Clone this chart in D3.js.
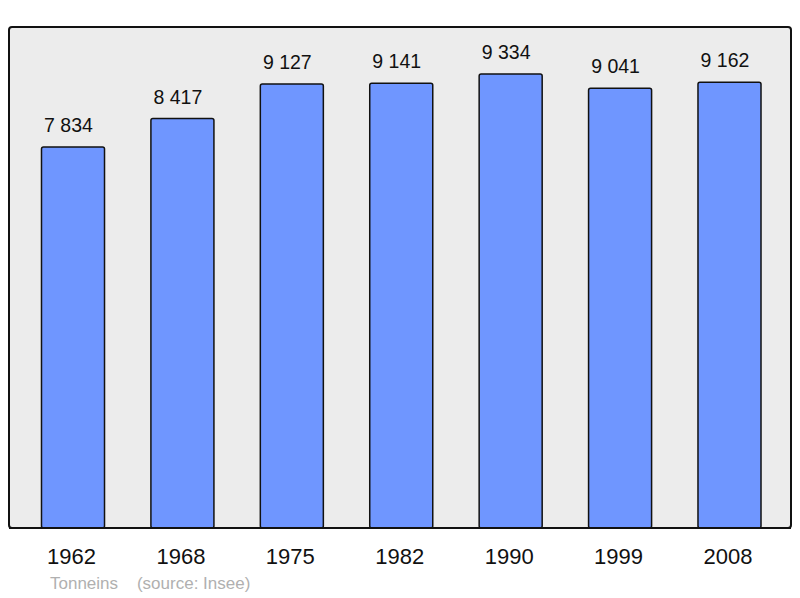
<!DOCTYPE html>
<html>
<head>
<meta charset="utf-8">
<script src="https://cdn.jsdelivr.net/npm/d3@7"></script>
<style>
  body { margin: 0; background: #fff; }
  svg { display: block; font-family: "Liberation Sans", Arial, sans-serif; }
</style>
</head>
<body>
<div id="chart"></div>
<script>
var years = ["1962", "1968", "1975", "1982", "1990", "1999", "2008"];
var population = [7834, 8417, 9127, 9141, 9334, 9041, 9162];
var labels = ["7 834", "8 417", "9 127", "9 141", "9 334", "9 041", "9 162"];
var sourceText = "Tonneins    (source: Insee)";

var width = 800, height = 598;
var panel = {left: 9, top: 27, right: 791, bottom: 528};

var svg = d3.select("#chart").append("svg")
    .attr("width", width)
    .attr("height", height);

svg.append("rect")
    .attr("x", panel.left)
    .attr("y", panel.top)
    .attr("width", panel.right - panel.left)
    .attr("height", panel.bottom - panel.top)
    .attr("rx", 3)
    .attr("fill", "#ececec")
    .attr("stroke", "#111")
    .attr("stroke-width", 2);

var x = d3.scaleBand()
    .domain(years)
    .range([18.3, 784.2])
    .paddingInner(0.424)
    .paddingOuter(0.212);

var y = d3.scaleLinear()
    .domain([0, 10300])
    .range([panel.bottom, panel.top]);

var data = years.map(function(d, i) { return {year: d, value: population[i], label: labels[i]}; });

svg.selectAll(".bar")
    .data(data)
    .enter().append("rect")
    .attr("class", "bar")
    .attr("x", function(d) { return x(d.year); })
    .attr("y", function(d) { return y(d.value); })
    .attr("width", x.bandwidth())
    .attr("height", function(d) { return panel.bottom - y(d.value); })
    .attr("rx", 2)
    .attr("fill", "#6f96ff")
    .attr("stroke", "#111")
    .attr("stroke-width", 1.5);

// baseline over the bars
svg.append("line")
    .attr("x1", panel.left)
    .attr("x2", panel.right)
    .attr("y1", panel.bottom)
    .attr("y2", panel.bottom)
    .attr("stroke", "#111")
    .attr("stroke-width", 2);

svg.selectAll(".val")
    .data(data)
    .enter().append("text")
    .attr("class", "val")
    .attr("x", function(d) { return x(d.year) + x.bandwidth() / 2 - 4.5; })
    .attr("y", function(d) { return y(d.value) - 15; })
    .attr("text-anchor", "middle")
    .style("font-size", "19.5px")
    .attr("fill", "#111")
    .text(function(d) { return d.label; });

var xAxis = d3.axisBottom(x).tickSize(0).tickPadding(0);
var gx = svg.append("g")
    .attr("transform", "translate(0," + panel.bottom + ")")
    .call(xAxis);
gx.select(".domain").remove();
gx.selectAll("text")
    .attr("x", -1.5)
    .attr("y", 36)
    .attr("dy", null)
    .style("font-size", "22px")
    .style("font-family", "\"Liberation Sans\", Arial, sans-serif")
    .attr("fill", "#111");

svg.append("text")
    .attr("x", 50)
    .attr("y", 589)
    .attr("fill", "#b0b0b0")
    .style("font-size", "17px")
    .attr("xml:space", "preserve")
    .style("white-space", "pre")
    .text(sourceText);
</script>
</body>
</html>
